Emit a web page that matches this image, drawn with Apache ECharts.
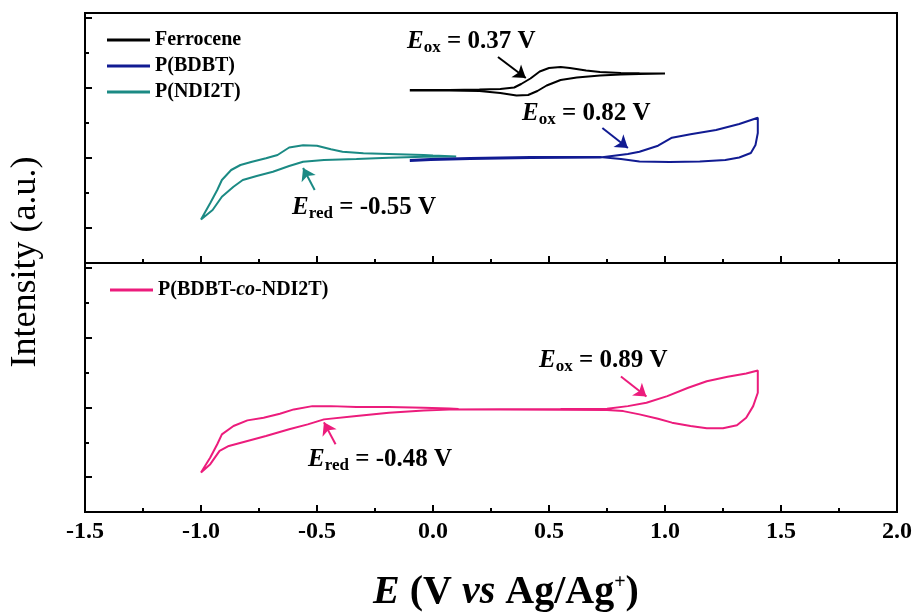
<!DOCTYPE html>
<html><head><meta charset="utf-8">
<script src="https://cdn.jsdelivr.net/npm/echarts@6/dist/echarts.min.js"></script>
<style>html,body{margin:0;padding:0;background:#fff}#c{width:920px;height:614px}</style>
</head><body><div id="c"></div>
<script>
// ---------- data (potential in V vs Ag/Ag+, intensity in a.u.) ----------
const xTickLabels = ['-1.5','-1.0','-0.5','0.0','0.5','1.0','1.5','2.0'];

const fcPotential = [-0.10,0.07,0.20,0.29,0.36,0.41,0.45,0.49,0.55,0.62,0.72,0.81,0.89,1.00,0.89,0.81,0.72,0.66,0.59,0.55,0.50,0.46,0.42,0.38,0.35,0.29,0.20,0.07,-0.10];
const fcIntensity = [172.5,172.5,172,170,167.5,168,172,177.5,183,185.5,187.5,188.5,189,189.5,189.7,190,191,192.5,195,196,195,191.5,184.5,179,175.5,174,173.5,173,173];

const bdbtPotential = [-0.10,-0.01,0.16,0.42,0.72,0.84,0.89,0.97,1.03,1.11,1.22,1.32,1.40,1.40,1.39,1.37,1.32,1.26,1.15,1.02,0.89,0.81,0.72,0.42,0.16,-0.01,-0.10];
const bdbtIntensity = [102,103,104,105,105.5,109,111.3,117.3,125.3,128.7,133,139,145.3,130,118,110,105.5,103,101.5,101,101.5,104,106,106,105,104,103];

const ndiPotential = [0.10,0.00,-0.04,-0.19,-0.30,-0.39,-0.44,-0.50,-0.56,-0.62,-0.67,-0.72,-0.78,-0.83,-0.87,-0.91,-0.93,-0.96,-1.00,-0.95,-0.91,-0.86,-0.82,-0.76,-0.69,-0.62,-0.56,-0.47,-0.33,-0.19,-0.04,0.10];
const ndiIntensity = [106.5,107.5,108,109,109.7,111.3,113.7,117.3,117.7,115.5,108,104.7,101.3,98,93,83,73,60,43.5,53,66.3,76.3,83,87,91.3,97,101.3,103,104,105.3,106.3,106.5];

const copPotential = [0.11,0.07,-0.04,-0.19,-0.33,-0.44,-0.52,-0.60,-0.66,-0.73,-0.80,-0.86,-0.91,-0.93,-0.96,-1.00,-0.96,-0.92,-0.88,-0.80,-0.72,-0.62,-0.54,-0.47,-0.33,-0.19,-0.04,0.07,0.29,0.55,0.75,0.84,0.92,1.01,1.10,1.18,1.27,1.35,1.40,1.40,1.38,1.35,1.31,1.25,1.18,1.11,1.03,0.97,0.89,0.82,0.75,0.55,0.29,0.11];
const copIntensity = [103.5,104,104.7,105.3,105.3,106.3,106.3,103,98.7,94.7,92,86.3,78,68,54.7,39.7,48,61.3,66.3,71.3,76.3,83,88,93,96.3,99.7,102,103,103.2,103.4,103.7,106.3,109.7,116.3,124.7,131.3,135.7,139,142,119.7,106.3,94.7,87,84,84,86.3,89.7,93.7,98,101.3,102.3,102.7,102.8,103];

// annotation arrows: [tail, head] in data units
const fcArrow   = [[0.28,206],[0.40,185]];
const bdbtArrow = [[0.73,135],[0.84,115]];
const ndiArrow  = [[-0.51,73],[-0.56,95]];
const copOxArrow  = [[0.81,136],[0.92,116]];
const copRedArrow = [[-0.42,68],[-0.47,90]];

const yMajorTicks = [35,105,175,245];
const yMinorTicks = [70,140,210];

// ---------- chart ----------
const SERIF = 'Liberation Serif';
const zip = (a,b) => a.map((v,i)=>[v,b[i]]);
const arrow = (pts,color) => ({
  silent:true, animation:false, symbol:['none','arrow'], symbolSize:12,
  label:{show:false}, lineStyle:{color:color,width:2,type:'solid'},
  emphasis:{disabled:true},
  data:[[{coord:pts[0]},{coord:pts[1]}]]
});
function xAxisCfg(gi, showLabel){
  const c = {
    type:'value', gridIndex:gi, min:-1.5, max:2.0, interval:0.5,
    axisLine:{show:true,onZero:false,lineStyle:{color:'#000',width:2}},
    axisTick:{show:true,inside:true,length:7,lineStyle:{color:'#000',width:2}},
    minorTick:{show:true,splitNumber:2,length:4,lineStyle:{color:'#000',width:2}},
    splitLine:{show:false}, minorSplitLine:{show:false},
    axisLabel:{show:showLabel, margin:8, color:'#000', fontFamily:SERIF, fontWeight:'bold', fontSize:24,
      formatter:(v)=>{const i=Math.round((v+1.5)/0.5);return xTickLabels[i]!==undefined?xTickLabels[i]:'';}}
  };
  if(showLabel){
    c.name='{i|E}{n| (V }{i|vs}{n| Ag/Ag}{sup|+}{n|)}';
    c.nameLocation='middle'; c.nameGap=61;
    c.nameTextStyle={color:'#000',padding:[0,0,0,30],rich:{
      i:{fontFamily:SERIF,fontStyle:'italic',fontWeight:'bold',fontSize:40,color:'#000',verticalAlign:'middle'},
      n:{fontFamily:SERIF,fontWeight:'bold',fontSize:40,color:'#000',verticalAlign:'middle'},
      sup:{fontFamily:SERIF,fontWeight:'bold',fontSize:20,color:'#000',verticalAlign:'middle',padding:[0,0,20,0]}
    }};
  }
  return c;
}
function yAxisCfg(gi, ticks, len, line){
  return {type:'value', gridIndex:gi, min:0, max:250, position:'left',
    axisLine:{show:line,onZero:false,lineStyle:{color:'#000',width:2}},
    axisTick:{show:true,inside:true,length:len,customValues:ticks,lineStyle:{color:'#000',width:2}},
    axisLabel:{show:false}, splitLine:{show:false}};
}
const legendText = {fontFamily:SERIF,fontWeight:'bold',fontSize:20,color:'#000',lineHeight:20};
const annRich = {
  E:{fontFamily:SERIF,fontStyle:'italic',fontWeight:'bold',fontSize:25,fill:'#000',verticalAlign:'middle'},
  s:{fontFamily:SERIF,fontWeight:'bold',fontSize:17,fill:'#000',verticalAlign:'middle',padding:[12,0,0,0]},
  n:{fontFamily:SERIF,fontWeight:'bold',fontSize:25,fill:'#000',verticalAlign:'middle'}
};
const ann = (x,y,sub,val) => ({type:'text', x:x, y:y, silent:true,
  style:{text:'{E|E}{s|'+sub+'}{n| = '+val+' V}', rich:annRich, verticalAlign:'middle', align:'left', fill:'#000'}});

const option = {
  animation:false,
  backgroundColor:'#fff',
  grid:[
    {left:85,right:23,top:13,height:250,show:true,borderColor:'#000',borderWidth:2,backgroundColor:'transparent'},
    {left:85,right:23,top:263,height:250,show:true,borderColor:'#000',borderWidth:2,backgroundColor:'transparent'}
  ],
  xAxis:[xAxisCfg(0,false), xAxisCfg(1,true)],
  yAxis:[yAxisCfg(0,yMajorTicks,7,true), yAxisCfg(0,yMinorTicks,4,false),
         yAxisCfg(1,yMajorTicks,7,true), yAxisCfg(1,yMinorTicks,4,false)],
  legend:[
    {data:['Ferrocene','P(BDBT)','P(NDI2T)'], orient:'vertical', left:107, top:30, itemWidth:43, itemHeight:3,
     itemGap:6, icon:'rect', padding:0, selectedMode:false, textStyle:legendText},
    {data:['P(BDBT-co-NDI2T)'], orient:'vertical', left:110, top:280, itemWidth:43, itemHeight:3,
     icon:'rect', padding:0, selectedMode:false,
     formatter:()=> '{a|P(BDBT-}{b|co}{a|-NDI2T)}',
     textStyle:{color:'#000',rich:{a:{fontFamily:SERIF,fontWeight:'bold',fontSize:20,color:'#000'},
       b:{fontFamily:SERIF,fontWeight:'bold',fontStyle:'italic',fontSize:20,color:'#000'}}}}
  ],
  graphic:[
    {type:'text', x:26, y:262, rotation:Math.PI/2, silent:true,
     style:{text:'Intensity (a.u.)', font:'36px "Liberation Serif"', fill:'#000', align:'center', verticalAlign:'middle'}},
    ann(407,42,'ox','0.37'),
    ann(522,114,'ox','0.82'),
    ann(292,208,'red','-0.55'),
    ann(539,361,'ox','0.89'),
    ann(308,460,'red','-0.48')
  ],
  series:[
    {name:'P(NDI2T)', type:'line', xAxisIndex:0, yAxisIndex:0, data:zip(ndiPotential,ndiIntensity),
     showSymbol:false, symbol:'none', lineStyle:{color:'#1b8a84',width:2}, itemStyle:{color:'#1b8a84'},
     markLine:arrow(ndiArrow,'#1b8a84')},
    {name:'P(BDBT)', type:'line', xAxisIndex:0, yAxisIndex:0, data:zip(bdbtPotential,bdbtIntensity),
     showSymbol:false, symbol:'none', lineStyle:{color:'#111b92',width:2}, itemStyle:{color:'#111b92'},
     markLine:arrow(bdbtArrow,'#111b92')},
    {name:'Ferrocene', type:'line', xAxisIndex:0, yAxisIndex:0, data:zip(fcPotential,fcIntensity),
     showSymbol:false, symbol:'none', lineStyle:{color:'#000',width:2}, itemStyle:{color:'#000'},
     markLine:arrow(fcArrow,'#000')},
    {name:'P(BDBT-co-NDI2T)', type:'line', xAxisIndex:1, yAxisIndex:2, data:zip(copPotential,copIntensity),
     showSymbol:false, symbol:'none', lineStyle:{color:'#ec1c7c',width:2}, itemStyle:{color:'#ec1c7c'},
     markLine:{...arrow(copOxArrow,'#ec1c7c'), data:[[{coord:copOxArrow[0]},{coord:copOxArrow[1]}],[{coord:copRedArrow[0]},{coord:copRedArrow[1]}]]}}
  ]
};
const chart = echarts.init(document.getElementById('c'), null, {renderer:'canvas'});
chart.setOption(option);
</script></body></html>
